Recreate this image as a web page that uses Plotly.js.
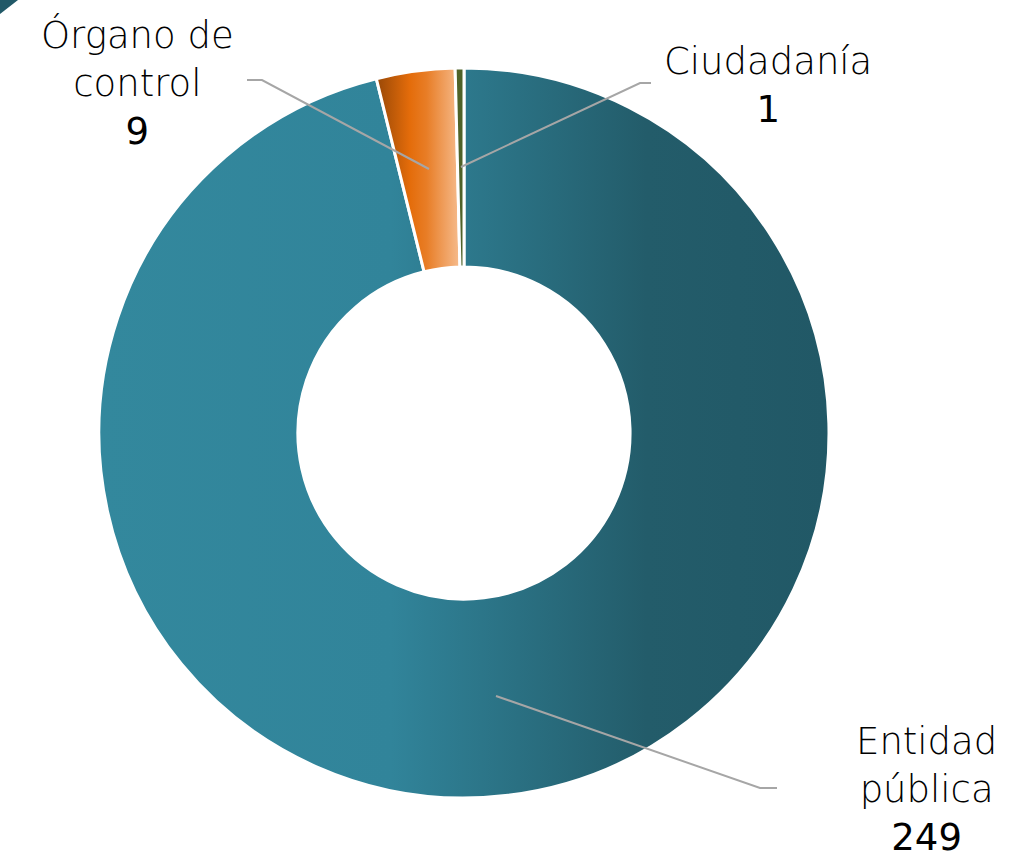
<!DOCTYPE html>
<html>
<head>
<meta charset="utf-8">
<script src="https://cdn.plot.ly/plotly-3.0.1.min.js"></script>
<style>
  html, body { margin: 0; padding: 0; background: #fff; }
  #plot { width: 1022px; height: 857px; }
</style>
</head>
<body>
<div id="plot"></div>
<script>
// datos del gráfico
const categorias = ['Entidad pública', 'Órgano de control', 'Ciudadanía'];
const valores = [249, 9, 1];
const etiquetas = ['Entidad<br>pública', 'Órgano de<br>control', 'Ciudadanía'];

const colores = ['#2b7386', '#e46c0a', '#4f6228'];
const fontFam = '"DejaVu Sans", "Noto Sans", sans-serif';

// posiciones de las etiquetas (papel)
const posEtiquetas = [
  { x: 926 / 1022, y: 1 - 789 / 857 },
  { x: 137 / 1022, y: 1 - 83 / 857 },
  { x: 768 / 1022, y: 1 - 85 / 857 }
];

function px(x) { return x / 1022; }
function py(y) { return 1 - y / 857; }

const trace = {
  type: 'pie',
  labels: categorias,
  values: valores,
  hole: 0.455,
  sort: false,
  direction: 'clockwise',
  rotation: 0,
  textinfo: 'none',
  hoverinfo: 'label+value',
  marker: { colors: colores, line: { color: '#ffffff', width: 3 } },
  domain: { x: [px(99), px(829)], y: [py(798), py(68)] },
  showlegend: false
};

const annotations = categorias.map((c, i) => ({
  xref: 'paper', yref: 'paper',
  x: posEtiquetas[i].x, y: posEtiquetas[i].y,
  xanchor: 'center', yanchor: 'middle',
  showarrow: false,
  align: 'center',
  text: etiquetas[i] + '<br><span style="font-weight:400">' + valores[i] + '</span>',
  font: { family: fontFam, size: 37, color: '#000', weight: 200 }
}));

// líneas guía
const gris = { color: '#a6a6a6', width: 2 };
const shapes = [
  { type: 'path', xref: 'paper', yref: 'paper', line: gris,
    path: `M ${px(496)} ${py(696)} L ${px(760)} ${py(788)} L ${px(777)} ${py(788)}` },
  { type: 'path', xref: 'paper', yref: 'paper', line: gris,
    path: `M ${px(247)} ${py(80)} L ${px(262)} ${py(80)} L ${px(429)} ${py(169)}` },
  { type: 'path', xref: 'paper', yref: 'paper', line: gris,
    path: `M ${px(651)} ${py(83)} L ${px(640)} ${py(83)} L ${px(461)} ${py(167)}` },
  { type: 'path', xref: 'paper', yref: 'paper', line: { width: 0 },
    fillcolor: '#215968',
    path: `M 0 1 L ${px(18)} 1 L 0 ${py(14)} Z` }
];

const layout = {
  width: 1022, height: 857,
  margin: { l: 0, r: 0, t: 0, b: 0 },
  paper_bgcolor: '#ffffff',
  annotations: annotations,
  shapes: shapes
};

// degradados horizontales como en el original
const degradados = [
  [[0, '#33889d'], [0.4, '#31849a'], [0.75, '#235c6a'], [1, '#215866']],
  [[0, '#984807'], [0.4, '#e46c0a'], [0.6, '#e87d26'], [1, '#f6bc8e']],
  [[0, '#4f6228'], [1, '#4f6228']]
];

Plotly.newPlot('plot', [trace], layout, { displayModeBar: false, staticPlot: true }).then(gd => {
  const svg = gd.querySelector('svg.main-svg');
  const ns = 'http://www.w3.org/2000/svg';
  let defs = svg.querySelector('defs');
  if (!defs) { defs = document.createElementNS(ns, 'defs'); svg.insertBefore(defs, svg.firstChild); }
  degradados.forEach((stops, i) => {
    const g = document.createElementNS(ns, 'linearGradient');
    g.setAttribute('id', 'grad' + i);
    g.setAttribute('x1', '0'); g.setAttribute('x2', '1');
    g.setAttribute('y1', '0'); g.setAttribute('y2', '0');
    stops.forEach(s => {
      const st = document.createElementNS(ns, 'stop');
      st.setAttribute('offset', s[0]);
      st.setAttribute('stop-color', s[1]);
      g.appendChild(st);
    });
    defs.appendChild(g);
  });
  gd.querySelectorAll('.slice path.surface').forEach((p, i) => {
    p.style.fill = 'url(#grad' + i + ')';
  });
});
</script>
</body>
</html>
